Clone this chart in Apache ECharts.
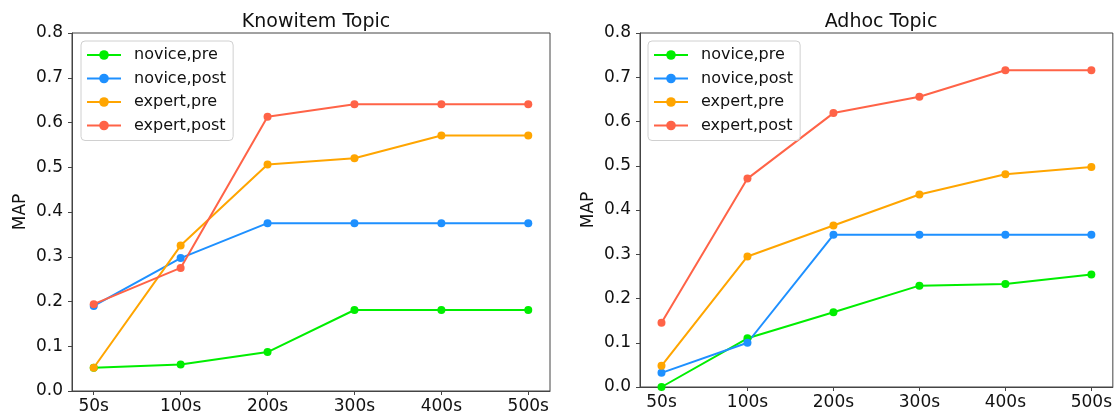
<!DOCTYPE html>
<html>
<head>
<meta charset="utf-8">
<script src="https://cdn.jsdelivr.net/npm/echarts@6/dist/echarts.min.js"></script>
<style>
  html, body { margin: 0; padding: 0; background: #fff; }
  #chart { width: 1115px; height: 416px; }
</style>
</head>
<body>
<div id="chart"></div>
<script>
// categories
const times = ['50s', '100s', '200s', '300s', '400s', '500s'];
const seriesNames = ['novice,pre', 'novice,post', 'expert,pre', 'expert,post'];
const colors = ['#00ee00', '#1e90ff', '#ffa500', '#ff6347'];
const yTicks = [0, 0.1, 0.2, 0.3, 0.4, 0.5, 0.6, 0.7, 0.8];

// Knowitem Topic
const knowNovicePre = [0.052, 0.059, 0.087, 0.181, 0.181, 0.181];
const knowNovicePost = [0.190, 0.297, 0.375, 0.375, 0.375, 0.375];
const knowExpertPre = [0.052, 0.325, 0.506, 0.520, 0.571, 0.571];
const knowExpertPost = [0.194, 0.275, 0.613, 0.641, 0.641, 0.641];

// Adhoc Topic
const adhocNovicePre = [0.000, 0.110, 0.169, 0.229, 0.233, 0.254];
const adhocNovicePost = [0.032, 0.100, 0.344, 0.344, 0.344, 0.344];
const adhocExpertPre = [0.048, 0.295, 0.365, 0.435, 0.481, 0.497];
const adhocExpertPost = [0.145, 0.471, 0.619, 0.656, 0.716, 0.716];

const knowData = [knowNovicePre, knowNovicePost, knowExpertPre, knowExpertPost];
const adhocData = [adhocNovicePre, adhocNovicePost, adhocExpertPre, adhocExpertPost];

const font = 'DejaVu Sans';
const axisColor = '#444';
const textColor = '#111';
const tickIdx = times.map(function (t, i) { return i; });

function makeX(gridIndex) {
    return {
        type: 'value', gridIndex: gridIndex, min: -0.25, max: 5.25,
        splitLine: { show: false },
        axisLine: { show: true, onZero: false, lineStyle: { color: axisColor, width: 1 } },
        axisTick: { show: true, length: 4, customValues: tickIdx, lineStyle: { color: axisColor } },
        axisLabel: {
            customValues: tickIdx, margin: 7, color: textColor, fontFamily: font, fontSize: 17,
            formatter: function (v) { return times[Math.round(v)]; }
        }
    };
}

function makeY(gridIndex) {
    return {
        type: 'value', gridIndex: gridIndex, min: 0, max: 0.8,
        name: 'MAP', nameLocation: 'middle', nameGap: 43, nameRotate: 90,
        nameTextStyle: { color: textColor, fontFamily: font, fontSize: 17 },
        splitLine: { show: false },
        axisLine: { show: true, onZero: false, lineStyle: { color: axisColor, width: 1 } },
        axisTick: { show: true, length: 4, customValues: yTicks, lineStyle: { color: axisColor } },
        axisLabel: {
            customValues: yTicks, margin: 9, color: textColor, fontFamily: font, fontSize: 17,
            formatter: function (v) { return v.toFixed(1); }
        }
    };
}

function makeLegend(left) {
    return {
        orient: 'vertical', left: left, top: 41,
        data: seriesNames,
        itemWidth: 34, itemHeight: 12, itemGap: 5.5,
        padding: [5, 7, 6, 5],
        backgroundColor: 'rgba(255,255,255,0.8)',
        borderColor: '#d0d0d0', borderWidth: 1, borderRadius: 4,
        textStyle: { color: textColor, fontFamily: font, fontSize: 16, lineHeight: 18, padding: [0, 0, 0, 8] }
    };
}

function makeSeries(dataList, idx) {
    return dataList.map(function (vals, k) {
        return {
            name: seriesNames[k], type: 'line',
            xAxisIndex: idx, yAxisIndex: idx,
            data: vals.map(function (v, i) { return [i, v]; }),
            symbol: 'circle', symbolSize: 8, showAllSymbol: true,
            lineStyle: { width: 2, color: colors[k] },
            itemStyle: { color: colors[k] },
            emphasis: { disabled: true }
        };
    });
}

const chart = echarts.init(document.getElementById('chart'));
chart.setOption({
    animation: false,
    backgroundColor: '#fff',
    title: [
        { text: 'Knowitem Topic', left: 311, top: 8, textAlign: 'center',
          textStyle: { color: textColor, fontFamily: font, fontSize: 19, fontWeight: 'normal' } },
        { text: 'Adhoc Topic', left: 876, top: 8, textAlign: 'center',
          textStyle: { color: textColor, fontFamily: font, fontSize: 19, fontWeight: 'normal' } }
    ],
    grid: [
        { left: 72, top: 33, width: 478, height: 358, show: true, borderColor: axisColor, borderWidth: 1, backgroundColor: 'transparent' },
        { left: 640, top: 33, width: 473, height: 354, show: true, borderColor: axisColor, borderWidth: 1, backgroundColor: 'transparent' }
    ],
    legend: [makeLegend(81), makeLegend(648)],
    xAxis: [makeX(0), makeX(1)],
    yAxis: [makeY(0), makeY(1)],
    series: makeSeries(knowData, 0).concat(makeSeries(adhocData, 1))
});
</script>
</body>
</html>
